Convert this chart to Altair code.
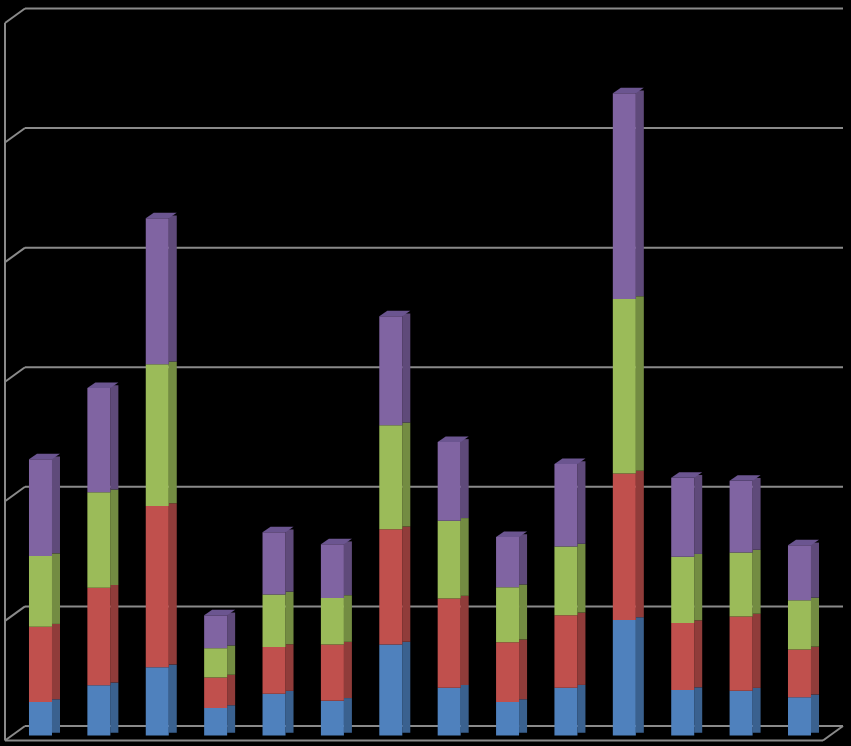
import altair as alt
import pandas as pd

categories = [f"C{i}" for i in range(1, 15)]
series = ["Series 1", "Series 2", "Series 3", "Series 4"]
blue = [2.8, 4.2, 5.7, 2.3, 3.5, 2.9, 7.6, 4.0, 2.8, 4.0, 9.65, 3.8, 3.75, 3.2]
red = [6.3, 8.15, 13.5, 2.55, 3.9, 4.7, 9.65, 7.45, 5.0, 6.05, 12.25, 5.6, 6.2, 4.0]
green = [5.9, 8.0, 11.85, 2.45, 4.4, 3.9, 8.7, 6.5, 4.6, 5.75, 14.6, 5.55, 5.35, 4.1]
purple = [8.1, 8.7, 12.2, 2.75, 5.2, 4.5, 9.1, 6.6, 4.2, 6.9, 17.2, 6.6, 6.0, 4.6]
ticks = [0, 10, 20, 30, 40, 50, 60]

front_colors = ["#4F81BD", "#C0504D", "#9BBB59", "#8064A2"]
side_colors = ["#3A618F", "#903C3A", "#738C42", "#5F4A7A"]
cap_color = "#6B5590"
grid_color = "#8A8A8A"

rows = []
for s_i, (name, vals) in enumerate(zip(series, [blue, red, green, purple])):
    for c, v in zip(categories, vals):
        rows.append({"cat": c, "series": name, "order": s_i, "value": v})
df = pd.DataFrame(rows)
totals = pd.DataFrame({"cat": categories,
                       "total": [b + r + g + p for b, r, g, p in zip(blue, red, green, purple)]})
grid = pd.DataFrame({"tick": ticks})
zero = pd.DataFrame({"tick": [0], "top": [60]})

yscale = alt.Scale(domain=[-0.878, 61.5], nice=False, zero=False)
xscale = alt.Scale(domain=categories, paddingInner=0, paddingOuter=0.288, align=0.336)
X = alt.X("cat:N", scale=xscale, axis=None, sort=categories)

back_grid = alt.Chart(grid).mark_rule(color=grid_color, strokeWidth=2, yOffset=-9.5).encode(
    x=alt.value(25), x2=alt.value(843), y=alt.Y("tick:Q", scale=yscale, axis=None))
left_diag = alt.Chart(grid).mark_rule(color=grid_color, strokeWidth=2, yOffset=5, y2Offset=-9.5).encode(
    x=alt.value(5), x2=alt.value(25), y=alt.Y("tick:Q", scale=yscale, axis=None), y2="tick:Q")
left_edge = alt.Chart(zero).mark_rule(color=grid_color, strokeWidth=2, yOffset=5, y2Offset=5).encode(
    x=alt.value(5), y=alt.Y("tick:Q", scale=yscale, axis=None), y2="top:Q")
floor_front = alt.Chart(zero).mark_rule(color=grid_color, strokeWidth=2, yOffset=5).encode(
    x=alt.value(5), x2=alt.value(823), y=alt.Y("tick:Q", scale=yscale, axis=None))
floor_right = alt.Chart(zero).mark_rule(color=grid_color, strokeWidth=2, yOffset=5, y2Offset=-9.5).encode(
    x=alt.value(823), x2=alt.value(843), y=alt.Y("tick:Q", scale=yscale, axis=None), y2="tick:Q")

side = alt.Chart(df).mark_bar(size=8, xOffset=15.5, yOffset=-2.75, y2Offset=-2.75).encode(
    x=X,
    y=alt.Y("value:Q", stack="zero", scale=yscale, axis=None),
    color=alt.Color("series:N", scale=alt.Scale(domain=series, range=side_colors), legend=None),
    order=alt.Order("order:Q", sort="ascending"))

front = alt.Chart(df).mark_bar(size=23).encode(
    x=X,
    y=alt.Y("value:Q", stack="zero", scale=yscale, axis=None),
    color=alt.Color("series:N", scale=alt.Scale(domain=series, range=front_colors), legend=None),
    order=alt.Order("order:Q", sort="ascending"))

cap = alt.Chart(totals).mark_point(
    shape="M -11.5 0 L 11.5 0 L 19.5 -5.5 L -3.5 -5.5 Z", size=4, filled=True,
    color=cap_color, opacity=1, strokeWidth=0).encode(
    x=X, y=alt.Y("total:Q", scale=yscale, axis=None))

chart = alt.layer(back_grid, left_diag, left_edge, floor_front, floor_right, side, front, cap).resolve_scale(
    color="independent").properties(
    width=851, height=746, background="black", padding=0,
    autosize=alt.AutoSizeParams(type="none")).configure_view(stroke=None)

chart.save("out.html", embed_options={"renderer": "svg", "actions": False})
